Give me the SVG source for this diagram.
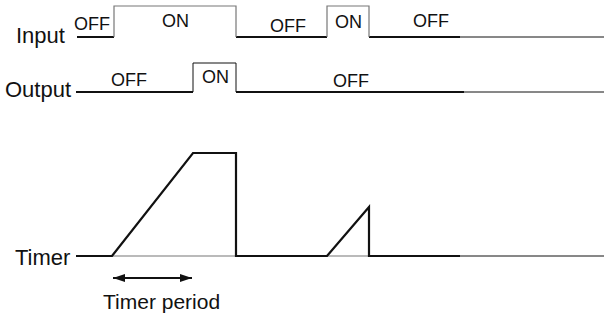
<svg xmlns="http://www.w3.org/2000/svg" width="604" height="321" viewBox="0 0 604 321">
<style>
.big{font-family:"Liberation Sans",Arial,sans-serif;font-size:22px;fill:#111}
.sm{font-family:"Liberation Sans",Arial,sans-serif;font-size:18px;fill:#111}
.thick{stroke:#111;stroke-width:2.2;fill:none}
.thin{stroke:#111;stroke-width:1;fill:none}
.gray{stroke:#777;stroke-width:1.2;fill:none}
</style>
<defs>
<marker id="ah" viewBox="0 0 12 8" refX="12" refY="4" markerWidth="12" markerHeight="8" markerUnits="userSpaceOnUse" orient="auto-start-reverse">
<path d="M0,0 L12,4 L0,8 Z" fill="#111"/>
</marker>
</defs>
<g id="input">
<text class="big" x="16" y="43">Input</text>
<path class="thick" d="M77,37 H114 M236,37 H327 M369,37 H460"/>
<path class="gray" d="M114,37 V6 H236 V37 M327,37 V6 H369 V37"/>
<path class="thin" d="M460,37 H604"/>
<text class="sm" x="74" y="30">OFF</text>
<text class="sm" x="162" y="27">ON</text>
<text class="sm" x="270" y="32">OFF</text>
<text class="sm" x="335" y="28">ON</text>
<text class="sm" x="413" y="27">OFF</text>
</g>
<g id="output">
<text class="big" x="5" y="97">Output</text>
<path class="thick" d="M76,92 H193 M236,92 H464"/>
<path class="thin" d="M193,92 V63 H236 V92 M464,92 H604"/>
<text class="sm" x="111" y="86">OFF</text>
<text class="sm" x="202" y="83">ON</text>
<text class="sm" x="333" y="87">OFF</text>
</g>
<g id="timer">
<text class="big" x="15" y="265">Timer</text>
<path class="gray" d="M112,256 H236 M327,256 H369"/>
<path class="thick" d="M76,256 H112 L193,153 H236 V256 H327 L369,207 V256 H460"/>
<path class="thin" d="M460,256 H604"/>
</g>
<g id="timer-period">
<line class="thick" x1="113" y1="278" x2="192" y2="278" stroke-width="2" marker-start="url(#ah)" marker-end="url(#ah)"/>
<text class="big" x="103" y="309" style="font-size:21px">Timer period</text>
</g>
</svg>
